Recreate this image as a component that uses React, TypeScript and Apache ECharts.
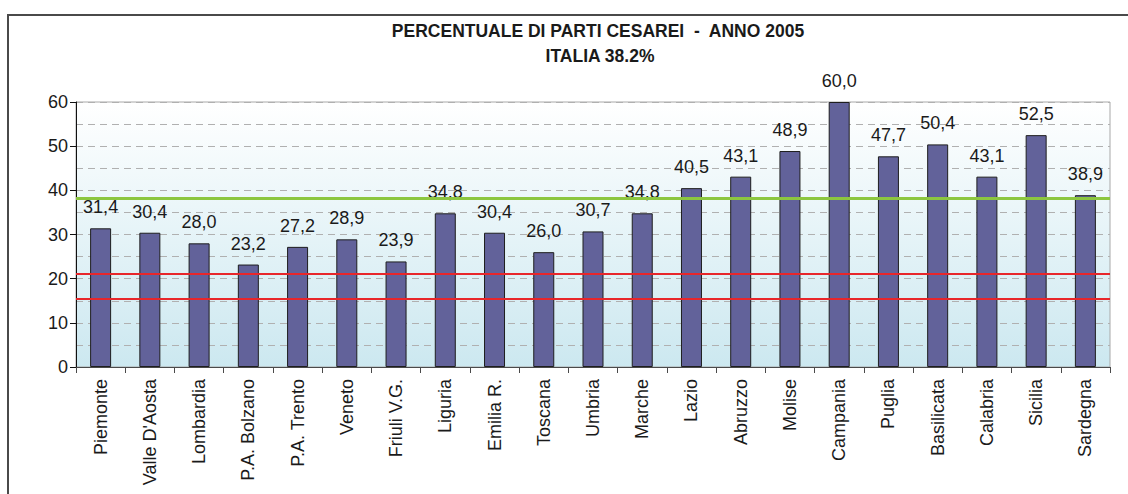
import React, { useEffect, useRef } from "react";
import * as echarts from "echarts";

const regions = [
  "Piemonte", "Valle D'Aosta", "Lombardia", "P.A. Bolzano", "P.A. Trento", "Veneto",
  "Friuli V.G.", "Liguria", "Emilia R.", "Toscana", "Umbria", "Marche", "Lazio",
  "Abruzzo", "Molise", "Campania", "Puglia", "Basilicata", "Calabria", "Sicilia", "Sardegna",
];
const cesareanPct = [
  31.4, 30.4, 28.0, 23.2, 27.2, 28.9, 23.9, 34.8, 30.4, 26.0, 30.7, 34.8, 40.5,
  43.1, 48.9, 60.0, 47.7, 50.4, 43.1, 52.5, 38.9,
];
const italyAverage = 38.2;
const referenceLines = [21.1, 15.5];
const yTicks = [0, 10, 20, 30, 40, 50, 60];
const titleLine1 = "PERCENTUALE DI PARTI CESAREI  -  ANNO 2005";
const titleLine2 = "ITALIA 38.2%";

const FONT = "'Liberation Sans', Arial, sans-serif";

export default function App() {
  const ref = useRef<HTMLDivElement>(null);
  useEffect(() => {
    if (!ref.current) return;
    const chart = echarts.init(ref.current, null, { renderer: "svg" });
    chart.setOption({
      animation: false,
      backgroundColor: "#ffffff",
      textStyle: { fontFamily: FONT },
      graphic: [
        {
          type: "rect",
          shape: { x: 8, y: 15, width: 1300, height: 700 },
          style: { fill: "none", stroke: "#4a4a4a", lineWidth: 2 },
          silent: true,
        },
        {
          type: "text",
          x: 598,
          y: 31,
          style: {
            text: titleLine1,
            fontFamily: FONT,
            fontSize: 17.5,
            fontWeight: "bold",
            fill: "#1a1a1a",
            textAlign: "center",
            textVerticalAlign: "middle",
          },
        },
        {
          type: "text",
          x: 600,
          y: 56,
          style: {
            text: titleLine2,
            fontFamily: FONT,
            fontSize: 17.5,
            fontWeight: "bold",
            fill: "#1a1a1a",
            textAlign: "center",
            textVerticalAlign: "middle",
          },
        },
      ],
      grid: {
        left: 76,
        top: 102,
        right: 18,
        bottom: 127,
        show: true,
        borderColor: "#a8a8a8",
        borderWidth: 1,
        backgroundColor: new echarts.graphic.LinearGradient(0, 0, 0, 1, [
          { offset: 0, color: "#ffffff" },
          { offset: 1, color: "#cce8f0" },
        ]),
      },
      xAxis: {
        type: "category",
        data: regions,
        axisLine: { lineStyle: { color: "#4a4a4a", width: 1 } },
        axisTick: { show: true, length: 6, lineStyle: { color: "#4a4a4a" } },
        axisLabel: {
          rotate: 90,
          margin: 12,
          fontSize: 18,
          fontFamily: FONT,
          color: "#1a1a1a",
          interval: 0,
        },
      },
      yAxis: {
        type: "value",
        min: yTicks[0],
        max: yTicks[yTicks.length - 1],
        interval: 10,
        axisLine: { show: true, lineStyle: { color: "#111", width: 1 } },
        axisTick: { show: true, length: 6, lineStyle: { color: "#111" } },
        axisLabel: { fontSize: 18, fontFamily: FONT, color: "#1a1a1a", margin: 8 },
        splitLine: { show: true, lineStyle: { color: "#b0b0b0", type: [7, 5], width: 1 } },
        minorTick: { show: false, splitNumber: 2 },
        minorSplitLine: { show: true, lineStyle: { color: "#b0b0b0", type: [7, 5], width: 1 } },
      },
      series: [
        {
          type: "bar",
          data: cesareanPct,
          barWidth: 21,
          itemStyle: { color: "#62629a", borderColor: "#1e1e1e", borderWidth: 1 },
          label: {
            show: true,
            position: "top",
            distance: 12,
            fontSize: 18,
            fontFamily: FONT,
            color: "#1a1a1a",
            formatter: (p: any) => Number(p.value).toFixed(1).replace(".", ","),
          },
          markLine: {
            silent: true,
            symbol: "none",
            label: { show: false },
            data: [
              { yAxis: italyAverage, lineStyle: { color: "#8cc63f", width: 3, type: "solid" } },
              ...referenceLines.map((v) => ({
                yAxis: v,
                lineStyle: { color: "#e8262a", width: 2, type: "solid" },
              })),
            ],
          },
          z: 3,
        },
      ],
    });
    return () => chart.dispose();
  }, []);
  return (
    <div
      ref={ref}
      style={{ position: "absolute", left: 0, top: 0, width: 1128, height: 494 }}
    />
  );
}
